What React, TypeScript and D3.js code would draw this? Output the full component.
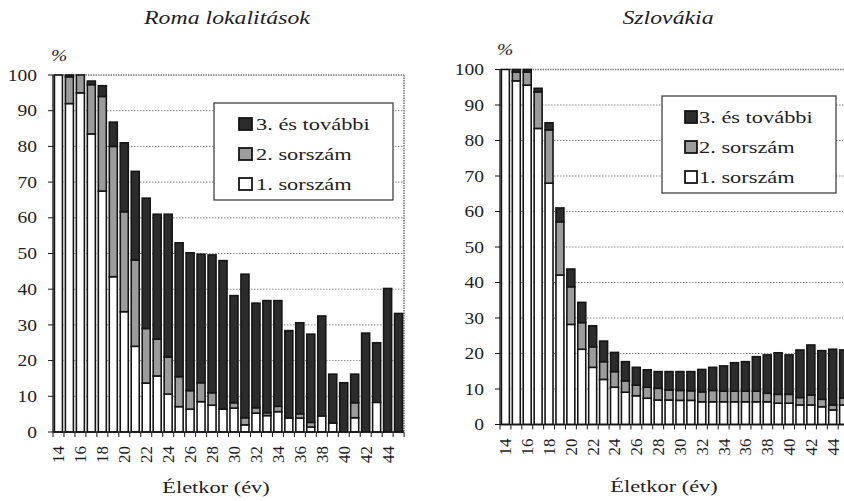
import React from "react";
import * as d3 from "d3";

const ages = [14,15,16,17,18,19,20,21,22,23,24,25,26,27,28,29,30,31,32,33,34,35,36,37,38,39,40,41,42,43,44,45];
const tickAges = [14,16,18,20,22,24,26,28,30,32,34,36,38,40,42,44];
const yTicks = [0,10,20,30,40,50,60,70,80,90,100];
const seriesNames = ["3. és további", "2. sorszám", "1. sorszám"];

// Roma lokalitások
const romaFirst = [100,92,95,83.5,67.5,43.5,33.7,24,13.7,15.7,10.6,7.1,6.4,8.5,7.5,6.4,6.7,2,5.3,4.6,5.7,3.9,3.9,1.4,4.5,2.5,0,4,0,8.3,0,0];
const romaSecond = [0,7.5,5,13.8,26.5,36.5,28,24.2,15.3,10.3,10.4,8.4,5.2,5.3,3.5,0,1.5,2,1.5,0.8,1.5,0,1.2,1.3,0,0,0,4.2,0,0,0,0];
const romaThird = [0,0.5,0,1,3,6.8,19.3,24.8,36.5,35,40,37.5,38.6,36,38.6,41.6,30,40.2,29.3,31.4,29.6,24.5,25.5,24.7,28,13.7,13.8,8,27.7,16.7,40.2,33.2];

// Szlovákia
const slovFirst = [100,96.8,95.6,83.4,68,42.1,28.2,21.2,16.1,12.7,10.5,9.1,8.1,7.4,6.9,6.9,6.8,6.8,6.4,6.4,6.4,6.4,6.4,6.4,6.4,6,6,5.5,5.5,5,4.1,5.5];
const slovSecond = [0,2.5,3.7,10.3,15,15,10.6,7.5,5.8,5,4.4,3.2,3,3.1,3.3,2.8,2.8,2.7,2.8,3.2,3,3,3,3,2.4,2.5,2.5,2.1,2.8,2.1,1.4,2];
const slovThird = [0,0.7,0.7,1,2,3.9,5,5.7,5.9,5.8,5.4,5.4,5,4.9,4.7,5.2,5.3,5.4,6.3,6.5,7.1,8,8.3,9.7,10.8,11.7,11.1,13.4,14.1,13.7,15.7,13.5];

const FONT = "'Liberation Serif', 'Times New Roman', serif";
const FILL_FIRST = "#ffffff";
const FILL_SECOND = "#9c9c9c";
const FILL_THIRD = "#2c2c2c";
const STROKE = "#151515";
const TEXT = "#1e1e1e";

function SText({ x, y, size, sx = 1.25, anchor = "start", italic = false, dy = "0", children }: any) {
  return (
    <text
      transform={`translate(${x},${y}) scale(${sx},1)`}
      fontSize={size}
      fontFamily={FONT}
      fontStyle={italic ? "italic" : "normal"}
      textAnchor={anchor}
      dy={dy}
      fill={TEXT}
    >
      {children}
    </text>
  );
}

function Panel(props: any) {
  const { x0, x1, y0, y100, first, second, third, title, titleX, pctX, pctY, legend, axisTitleX, axisTitleY } = props;
  const x = d3.scaleBand<number>().domain(ages).range([x0, x1]).paddingInner(0.27).paddingOuter(0.13);
  const y = d3.scaleLinear().domain([0, 100]).range([y0, y100]);
  const rows = ages.map((a, i) => ({ age: a, first: first[i], second: second[i], third: third[i] }));
  const stack = d3.stack<any>().keys(["first", "second", "third"])(rows);
  const fills = [FILL_FIRST, FILL_SECOND, FILL_THIRD];
  const step = x.step();
  const boundaries = ages.map((_, i) => x0 + i * step).concat([x0 + ages.length * step]);
  return (
    <g>
      <SText x={titleX} y={24} size={19.5} sx={1.22} anchor="middle" italic>{title}</SText>
      <SText x={pctX} y={pctY} size={17} sx={1.15} italic>%</SText>
      {/* grid */}
      {yTicks.filter(t => t > 0 && t < 100).map(t => (
        <line key={t} x1={x0} x2={x1} y1={y(t)} y2={y(t)} stroke="#8a8a8a" strokeWidth={1} strokeDasharray="1.5,1.5" />
      ))}
      <line x1={x0} x2={x1} y1={y(100)} y2={y(100)} stroke="#7a7a7a" strokeWidth={1.6} strokeDasharray="1.5,1" />
      <line x1={x1} x2={x1} y1={y(100)} y2={y(0)} stroke="#7a7a7a" strokeWidth={1.6} strokeDasharray="1.5,1" />
      {/* bars */}
      {stack.map((layer, li) => (
        <g key={li}>
          {layer.map((d: any, i: number) => {
            const h = y(d[0]) - y(d[1]);
            if (h <= 0.01) return null;
            return (
              <rect key={i} x={x(ages[i])} width={x.bandwidth()} y={y(d[1])} height={h}
                fill={fills[li]} stroke={STROKE} strokeWidth={1.6} />
            );
          })}
        </g>
      ))}
      {/* axes */}
      <line x1={x0} x2={x1} y1={y0} y2={y0} stroke={STROKE} strokeWidth={1.3} />
      <line x1={x0} x2={x0} y1={y0} y2={y100} stroke={STROKE} strokeWidth={1.3} />
      {boundaries.map((b, i) => (
        <line key={i} x1={b} x2={b} y1={y0} y2={y0 + 5} stroke={STROKE} strokeWidth={1} />
      ))}
      {yTicks.map(t => (
        <g key={t}>
          <line x1={x0 - 5} x2={x0} y1={y(t)} y2={y(t)} stroke={STROKE} strokeWidth={1} />
          <SText x={x0 - 16} y={y(t)} size={16} sx={1.22} anchor="end" dy="0.35em">{t}</SText>
        </g>
      ))}
      {tickAges.map(a => (
        <text key={a} transform={`translate(${(x(a) as number) + x.bandwidth() / 2},${y0 + 14}) rotate(-90)`}
          fontSize={17} fontFamily={FONT} textAnchor="end" dy="0.35em" fill={TEXT}>{a}</text>
      ))}
      <SText x={axisTitleX} y={axisTitleY} size={17.5} sx={1.28} anchor="middle">Életkor (év)</SText>
      {/* legend */}
      <rect x={legend.x} y={legend.y} width={legend.w} height={legend.h} fill="#fff" stroke="#333" strokeWidth={1.2} />
      {seriesNames.map((n, i) => {
        const cy = legend.rowY[i];
        const f = [FILL_THIRD, FILL_SECOND, FILL_FIRST][i];
        return (
          <g key={n}>
            <rect x={legend.sx} y={cy - 6} width={legend.sw} height={12} fill={f} stroke={STROKE} strokeWidth={1.8} />
            <SText x={legend.tx} y={cy} size={17.5} sx={1.28} dy="0.35em">{n}</SText>
          </g>
        );
      })}
    </g>
  );
}

export default function App() {
  return (
    <svg width={844} height={501} style={{ position: "absolute", left: 0, top: 0, background: "#fff" }}>
      <Panel x0={53} x1={404} y0={432} y100={75} first={romaFirst} second={romaSecond} third={romaThird}
        title="Roma lokalitások" titleX={227} pctX={51} pctY={61}
        axisTitleX={216} axisTitleY={493}
        legend={{ x: 214, y: 103, w: 179, h: 97, sx: 239, sw: 13, tx: 256, rowY: [124, 154, 184] }} />
      <Panel x0={500} x1={849} y0={424.5} y100={69.5} first={slovFirst} second={slovSecond} third={slovThird}
        title="Szlovákia" titleX={668} pctX={497} pctY={55}
        axisTitleX={664} axisTitleY={492}
        legend={{ x: 662, y: 96, w: 174, h: 97, sx: 685, sw: 12, tx: 699, rowY: [117, 147, 177] }} />
    </svg>
  );
}
